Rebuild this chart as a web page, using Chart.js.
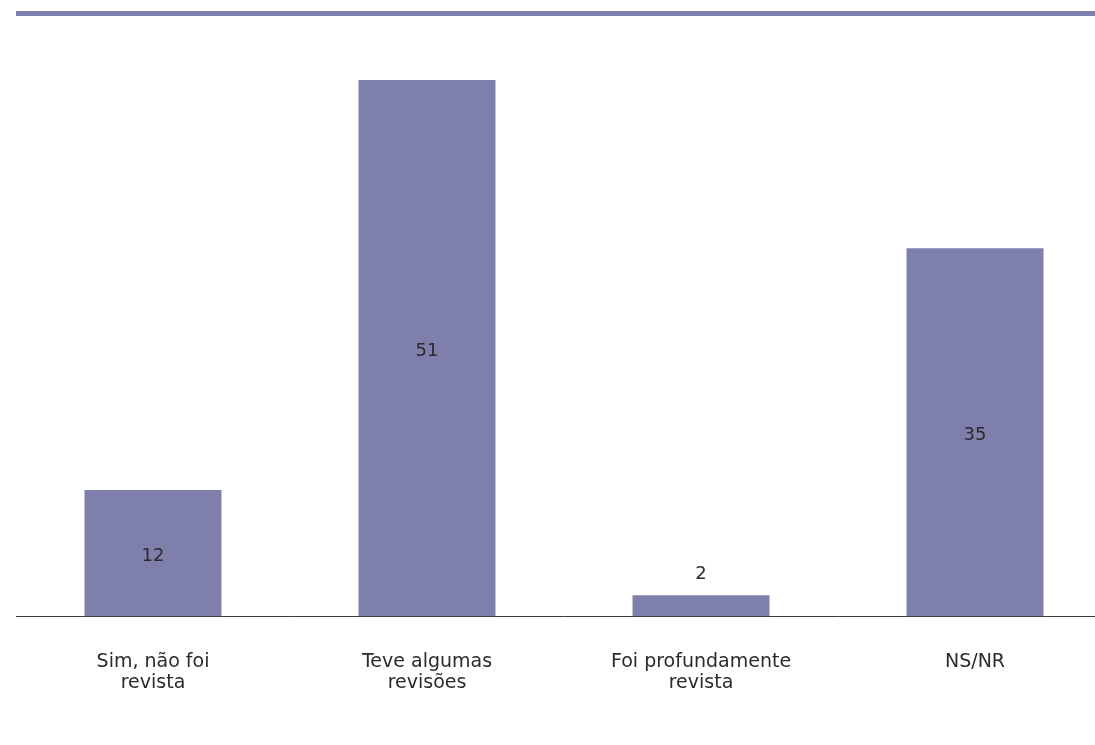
<!DOCTYPE html>
<html>
<head>
<meta charset="utf-8">
<script src="https://cdn.jsdelivr.net/npm/chart.js@4"></script>
<style>
html,body{margin:0;padding:0;background:#fff;overflow:hidden;width:1095px;height:745px;}
#topline{position:absolute;left:16px;top:11px;width:1079px;height:5px;background:#7f7fac;}
#wrap{position:absolute;left:0;top:0;width:1112px;height:745px;}
</style>
</head>
<body>
<div id="topline"></div>
<div id="wrap"><canvas id="c" width="1112" height="745"></canvas></div>
<script>
const categories = [["Sim, não foi","revista"],["Teve algumas","revisões"],["Foi profundamente","revista"],["NS/NR"]];
const values = [12, 51, 2, 35];
const barColor = '#7f7fac';
const FONT = '"DejaVu Sans", sans-serif';

const labelPlugin = {
  id: 'valueLabels',
  afterDatasetsDraw(chart) {
    const ctx = chart.ctx;
    const meta = chart.getDatasetMeta(0);
    ctx.save();
    ctx.font = '18px ' + FONT;
    ctx.fillStyle = '#2b2b2b';
    ctx.textAlign = 'center';
    ctx.textBaseline = 'middle';
    meta.data.forEach((bar, i) => {
      const v = values[i];
      const h = bar.base - bar.y;
      let y;
      if (h < 30) y = bar.y - 21;
      else y = (bar.y + bar.base) / 2 + 3.5;
      ctx.fillText(String(v), bar.x, y);
    });
    ctx.restore();
  }
};

new Chart(document.getElementById('c'), {
  type: 'bar',
  data: {
    labels: categories,
    datasets: [{ data: values, backgroundColor: barColor, categoryPercentage: 1, barPercentage: 0.5 }]
  },
  options: {
    responsive: false,
    animation: false,
    layout: { padding: { left: 16, right: 0, top: 38, bottom: 16 } },
    plugins: { legend: { display: false }, tooltip: { enabled: false } },
    scales: {
      y: { display: false, min: 0, max: 55 },
      x: {
        grid: { display: false, drawTicks: false },
        border: { display: true, color: '#3a3a3a', width: 1 },
        ticks: { font: { family: FONT, size: 19, lineHeight: 1.1 }, color: '#2b2b2b', padding: 35.5, maxRotation: 0, autoSkip: false }
      }
    }
  },
  plugins: [labelPlugin]
});
</script>
</body>
</html>
